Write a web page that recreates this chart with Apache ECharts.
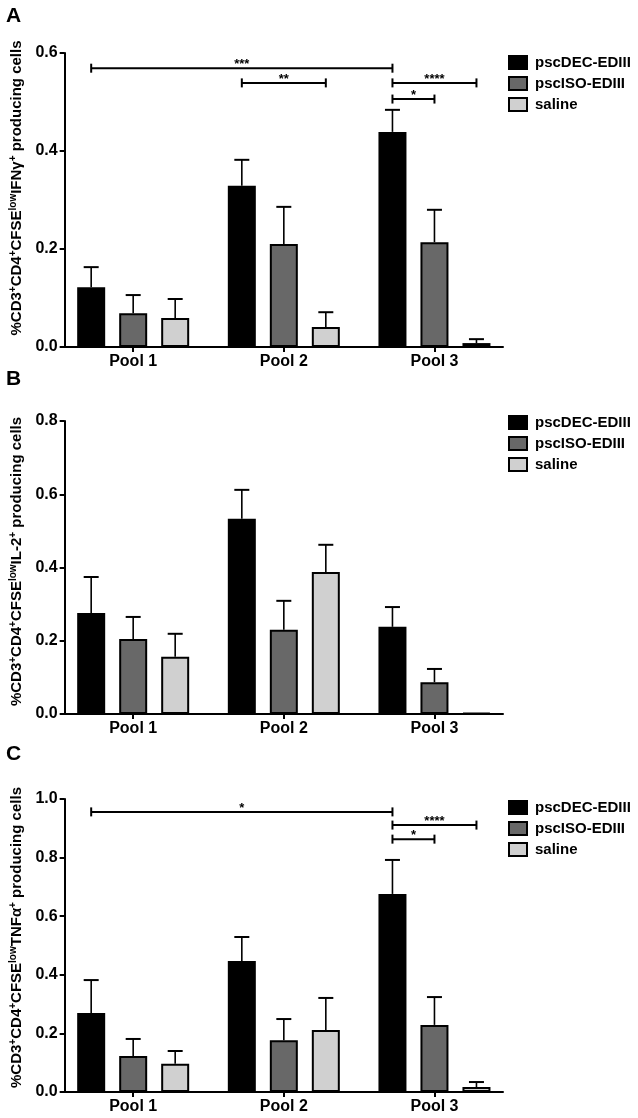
<!DOCTYPE html>
<html>
<head>
<meta charset="utf-8">
<script src="https://cdn.jsdelivr.net/npm/echarts@6/dist/echarts.min.js"></script>
<style>
html,body{margin:0;padding:0;background:#fff;}
#chart{width:638px;height:1118px;}
</style>
</head>
<body>
<div id="chart"></div>
<script>
// ---- data ----
const pools = ['Pool 1', 'Pool 2', 'Pool 3'];
const groups = ['pscDEC-EDIII', 'pscISO-EDIII', 'saline'];
const groupColors = ['#000000', '#686868', '#d0d0d0'];

// Panel A: IFN-gamma
const ifnDEC = [0.122, 0.329, 0.439];
const ifnISO = [0.069, 0.210, 0.214];
const ifnSAL = [0.059, 0.041, 0.008];
const ifnDECerr = [0.041, 0.053, 0.045];
const ifnISOerr = [0.037, 0.076, 0.066];
const ifnSALerr = [0.039, 0.030, 0.008];

// Panel B: IL-2
const il2DEC = [0.276, 0.533, 0.238];
const il2ISO = [0.205, 0.230, 0.087];
const il2SAL = [0.156, 0.388, 0.003];
const il2DECerr = [0.098, 0.079, 0.054];
const il2ISOerr = [0.060, 0.079, 0.036];
const il2SALerr = [0.063, 0.074, 0.0];

// Panel C: TNF-alpha
const tnfDEC = [0.270, 0.447, 0.676];
const tnfISO = [0.123, 0.177, 0.229];
const tnfSAL = [0.096, 0.212, 0.017];
const tnfDECerr = [0.112, 0.082, 0.116];
const tnfISOerr = [0.058, 0.072, 0.095];
const tnfSALerr = [0.044, 0.109, 0.017];

// y-axis ranges
const yMaxA = 0.6, yMaxB = 0.8, yMaxC = 1.0, yStep = 0.2;

// significance brackets: [fromPool, fromGroup, toPool, toGroup, yValue]
const sigA = [[0, 0, 2, 0, 0.569], [1, 0, 1, 2, 0.539], [2, 0, 2, 2, 0.539], [2, 0, 2, 1, 0.506]];
const sigAlabels = ['***', '**', '****', '*'];
const sigC = [[0, 0, 2, 0, 0.956], [2, 0, 2, 2, 0.911], [2, 0, 2, 1, 0.863]];
const sigClabels = ['*', '****', '*'];

// ---- layout constants ----
const FONT = '"Liberation Sans", Arial, sans-serif';
const BAR_W = 28;
const BAR_GAP = 0.5;
const STEP = BAR_W * (1 + BAR_GAP);
const gridTops = [53, 421, 799];
const gridHeights = [294, 293, 293];
const legendTops = [50, 410, 795];

const panels = [
  { means: [ifnDEC, ifnISO, ifnSAL], errs: [ifnDECerr, ifnISOerr, ifnSALerr], max: yMaxA, cyto: 'IFN\u03b3', sig: sigA, sigLabels: sigAlabels, pad: 24 },
  { means: [il2DEC, il2ISO, il2SAL], errs: [il2DECerr, il2ISOerr, il2SALerr], max: yMaxB, cyto: 'IL-2', sig: [], sigLabels: [], pad: 12 },
  { means: [tnfDEC, tnfISO, tnfSAL], errs: [tnfDECerr, tnfISOerr, tnfSALerr], max: yMaxC, cyto: 'TNF\u03b1', sig: sigC, sigLabels: sigClabels, pad: 16 }
];

const grids = [], xAxes = [], yAxes = [], series = [], legends = [], titles = [];
const letters = ['A', 'B', 'C'];
const letterTops = [6, 369, 744];

panels.forEach((p, k) => {
  grids.push({ left: 62, width: 441, top: gridTops[k], height: gridHeights[k], containLabel: false });
  xAxes.push({
    type: 'value', gridIndex: k, min: -0.455, max: 2.455,
    splitLine: { show: false },
    axisLine: { show: true, onZero: false, lineStyle: { color: '#000', width: 2 } },
    axisTick: { show: true, length: 5, lineStyle: { color: '#000', width: 2 }, customValues: [0, 1, 2] },
    axisLabel: {
      customValues: [0, 1, 2], margin: 7,
      formatter: v => pools[Math.round(v)],
      color: '#000', fontFamily: FONT, fontWeight: 'bold', fontSize: 16
    }
  });
  yAxes.push({
    type: 'value', gridIndex: k, min: 0, max: p.max, interval: yStep,
    splitLine: { show: false },
    axisLine: { show: true, onZero: false, lineStyle: { color: '#000', width: 2 } },
    axisTick: { show: true, length: 5, lineStyle: { color: '#000', width: 2 } },
    axisLabel: { formatter: v => v.toFixed(1), margin: 7, color: '#000', fontFamily: FONT, fontWeight: 'bold', fontSize: 16 },
    name: '{n|%CD3}{s|+}{n|CD4}{s|+}{n|CFSE}{s|low}{n|' + p.cyto + '}{s|+}{n| producing cells}',
    nameLocation: 'middle', nameRotate: 90, nameGap: 36,
    nameTextStyle: {
      padding: [0, 0, 0, p.pad],
      rich: {
        n: { fontFamily: FONT, fontWeight: 'bold', fontSize: 15, color: '#000', lineHeight: 18 },
        s: { fontFamily: FONT, fontWeight: 'bold', fontSize: 10, color: '#000', lineHeight: 10, verticalAlign: 'top' }
      }
    }
  });
  titles.push({ text: letters[k], left: 6, top: letterTops[k], padding: 0,
    textStyle: { fontFamily: FONT, fontWeight: 'bold', fontSize: 21, color: '#000' } });
  legends.push({
    data: groups, orient: 'vertical', left: 503, top: legendTops[k],
    icon: 'rect', itemWidth: 18, itemHeight: 13, itemGap: 6,
    textStyle: { fontFamily: FONT, fontWeight: 'bold', fontSize: 15, color: '#000', padding: [0, 0, 0, 3] },
    selectedMode: false
  });

  groups.forEach((g, gi) => {
    series.push({
      type: 'bar', name: g, xAxisIndex: k, yAxisIndex: k,
      barWidth: BAR_W, barGap: (BAR_GAP * 100) + '%',
      data: pools.map((_, i) => [i, p.means[gi][i]]),
      itemStyle: { color: groupColors[gi], borderColor: '#000', borderWidth: 2 },
      emphasis: { disabled: true }, animation: false
    });
  });
  // error bars
  groups.forEach((g, gi) => {
    const off = (gi - 1) * STEP;
    series.push({
      type: 'custom', xAxisIndex: k, yAxisIndex: k, z: 3, animation: false, silent: true,
      data: pools.map((_, i) => [i, p.means[gi][i], p.means[gi][i] + p.errs[gi][i]]),
      encode: { x: 0, y: [1, 2] },
      renderItem: (params, api) => {
        if (api.value(2) - api.value(1) <= 0) return null;
        const b = api.coord([api.value(0), api.value(1)]);
        const t = api.coord([api.value(0), api.value(2)]);
        const x = b[0] + off;
        return {
          type: 'group', children: [
            { type: 'line', shape: { x1: x, y1: b[1], x2: x, y2: t[1] }, style: { stroke: '#000', lineWidth: 1.6 } },
            { type: 'line', shape: { x1: x - 7.5, y1: t[1], x2: x + 7.5, y2: t[1] }, style: { stroke: '#000', lineWidth: 2 } }
          ]
        };
      }
    });
  });
  // significance brackets
  if (p.sig.length) {
    const labels = p.sigLabels;
    series.push({
      type: 'custom', xAxisIndex: k, yAxisIndex: k, z: 4, animation: false, silent: true, clip: false,
      data: p.sig,
      encode: { x: [0, 2], y: 4 },
      renderItem: (params, api) => {
        const a = api.coord([api.value(0), api.value(4)]);
        const c = api.coord([api.value(2), api.value(4)]);
        const x1 = a[0] + (api.value(1) - 1) * STEP;
        const x2 = c[0] + (api.value(3) - 1) * STEP;
        const y = a[1];
        return {
          type: 'group', children: [
            { type: 'line', shape: { x1: x1, y1: y, x2: x2, y2: y }, style: { stroke: '#000', lineWidth: 2 } },
            { type: 'line', shape: { x1: x1, y1: y - 4.5, x2: x1, y2: y + 4.5 }, style: { stroke: '#000', lineWidth: 2 } },
            { type: 'line', shape: { x1: x2, y1: y - 4.5, x2: x2, y2: y + 4.5 }, style: { stroke: '#000', lineWidth: 2 } },
            { type: 'text', x: (x1 + x2) / 2, y: y + 3,
              style: { text: labels[params.dataIndex], fill: '#000', font: 'bold 13px ' + FONT, textAlign: 'center', textVerticalAlign: 'bottom' } }
          ]
        };
      }
    });
  }
});

const chart = echarts.init(document.getElementById('chart'), null, { renderer: 'canvas' });
chart.setOption({
  backgroundColor: '#ffffff',
  animation: false,
  title: titles,
  grid: grids,
  xAxis: xAxes,
  yAxis: yAxes,
  legend: legends,
  series: series
});
</script>
</body>
</html>
